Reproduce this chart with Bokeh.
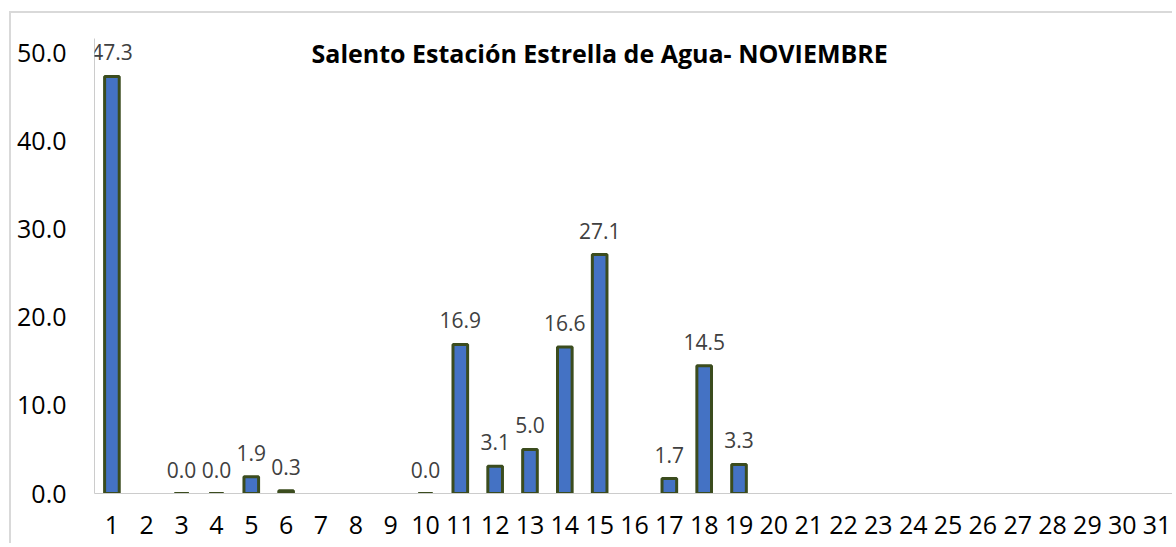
import numpy as np
from bokeh.plotting import figure
from bokeh.models import ColumnDataSource, Range1d, FixedTicker, LabelSet, Label, PrintfTickFormatter, InlineStyleSheet
from bokeh.core.properties import value
from bokeh.embed import file_html
from bokeh.resources import INLINE

# Data
days = list(range(1, 32))
rain = [47.3, None, 0.0, 0.0, 1.9, 0.3, None, None, None, 0.0,
        16.9, 3.1, 5.0, 16.6, 27.1, None, 1.7, 14.5, 3.3, None,
        None, None, None, None, None, None, None, None, None, None, None]
title_text = "Salento Estación Estrella de Agua- NOVIEMBRE"
y_ticks = [0, 10, 20, 30, 40, 50]

d_x = [d for d, v in zip(days, rain) if v is not None]
d_y = [v for v in rain if v is not None]
src = ColumnDataSource(dict(x=d_x, y=d_y, lab=["%.1f" % v for v in d_y]))

p = figure(width=1163, height=532, output_backend="svg", toolbar_location=None,
           x_range=Range1d(0.5, 31.5), y_range=Range1d(0, 51.6),
           min_border_left=83, min_border_right=0, min_border_top=25, min_border_bottom=52)
p.margin = (11, 0, 0, 9)
p.stylesheets = [InlineStyleSheet(css=":host { border-top: 2px solid #d9d9d9; border-left: 2px solid #d9d9d9; }")]
p.outline_line_color = None
p.grid.visible = False
p.background_fill_color = "white"
p.border_fill_color = "white"

p.vbar(x="x", top="y", width=0.42, bottom=0, source=src,
       fill_color="#4472C4", line_color="#3B4C1E", line_width=3)

labels = LabelSet(x="x", y="y", text="lab", source=src, text_align="center",
                  text_baseline="bottom", y_offset=16, text_font=value("Open Sans"),
                  text_font_size=value("21px"), text_color=value("#404040"))
p.add_layout(labels)

p.add_layout(Label(x=15.0, y=50, text=title_text, text_align="center", text_baseline="middle",
                   text_font="Open Sans", text_font_style="bold", text_font_size="25px",
                   text_color="#000000"))

p.xaxis.ticker = FixedTicker(ticks=days)
p.yaxis.ticker = FixedTicker(ticks=y_ticks)
p.yaxis.formatter = PrintfTickFormatter(format="%.1f")
for ax in (p.xaxis, p.yaxis):
    ax.axis_line_color = "#cccccc"
    ax.axis_line_width = 1
    ax.major_tick_line_color = None
    ax.minor_tick_line_color = None
    ax.major_tick_out = 0
    ax.major_tick_in = 0
    ax.major_label_text_font = "Open Sans"
    ax.major_label_text_font_size = "25px"
    ax.major_label_text_color = "#000000"
p.xaxis.major_label_standoff = 22
p.yaxis.major_label_standoff = 28

open("out.html", "w").write(file_html(p, INLINE))
